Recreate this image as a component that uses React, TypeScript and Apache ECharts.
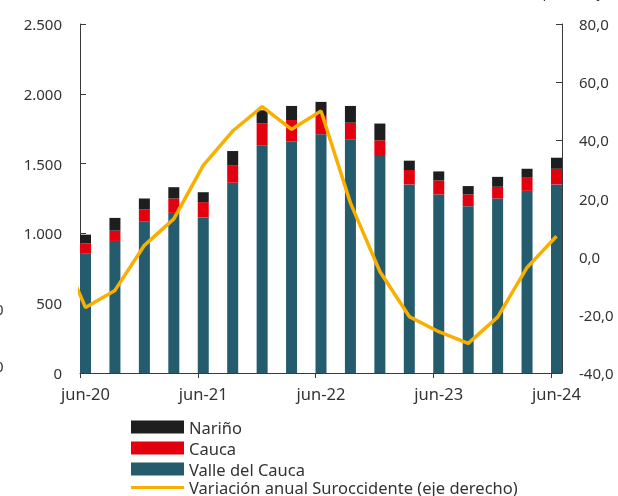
import React, { useEffect, useRef } from "react";
import * as echarts from "echarts";

const periods = [
  "jun-20", "sep-20", "dic-20", "mar-21", "jun-21", "sep-21", "dic-21", "mar-22",
  "jun-22", "sep-22", "dic-22", "mar-23", "jun-23", "sep-23", "dic-23", "mar-24", "jun-24",
];
const labelIndexes = [0, 4, 8, 12, 16];

const valle = [857, 946, 1087, 1147, 1114, 1363, 1631, 1657, 1710, 1674, 1554, 1351, 1279, 1195, 1250, 1305, 1351];
const cauca = [72, 74, 84, 103, 110, 126, 156, 155, 132, 119, 113, 103, 100, 84, 84, 94, 112];
const narino = [62, 91, 79, 81, 71, 101, 95, 101, 100, 120, 120, 67, 65, 60, 71, 64, 79];
// annual variation (%), right axis; first value = mar-20 (outside the plot, clipped)
const variacionPrev = 6.0;
const variacion = [-17.5, -11.6, 3.9, 13.0, 31.4, 43.2, 51.6, 43.8, 50.1, 18.5, -5.1, -20.6, -25.8, -29.8, -20.8, -3.7, 7.0];

const leftTicks = { min: 0, max: 2500, interval: 500 };
const rightTicks = { min: -40, max: 80, interval: 20 };

const LINE_NAME = "Variación anual Suroccidente (eje derecho)";
const FONT = "'Noto Sans', sans-serif";
const TXT = "#333333";
const AX = "#3a3a3a";

export default function App() {
  const ref = useRef<HTMLDivElement>(null);
  useEffect(() => {
    if (!ref.current) return;
    const chart = echarts.init(ref.current, undefined, { renderer: "svg" });
    const W = 618;
    const plotL = 80;
    const plotR = 562;
    const pad = 0.187;
    const tickOffset = 0.18;
    const n = periods.length;
    const step = (plotR - plotL) / (n - 1 + 2 * pad);
    const barGridL = plotL + pad * step - step / 2;
    const barGridR = plotR - pad * step + step / 2;
    const fmtThousands = (v: number) => String(v).replace(/\B(?=(\d{3})+(?!\d))/g, ".");
    const lineData = [[-1, variacionPrev], ...variacion.map((v, i) => [i, v])];
    chart.setOption({
      animation: false,
      textStyle: { fontFamily: FONT },
      grid: [
        { left: barGridL, right: W - barGridR, top: 24, bottom: 123, containLabel: false },
        { left: plotL, right: W - plotR, top: 24, bottom: 123, containLabel: false },
      ],
      legend: [
        {
          orient: "vertical",
          left: 131,
          top: 418.5,
          padding: 0,
          itemWidth: 53,
          itemHeight: 13,
          itemGap: 4,
          textStyle: { fontFamily: FONT, fontSize: 16.5, color: TXT },
          data: [
            { name: "Nariño", icon: "rect" },
            { name: "Cauca", icon: "rect" },
            { name: "Valle del Cauca", icon: "rect" },
          ],
        },
        {
          orient: "vertical",
          left: 131,
          top: 479,
          padding: 0,
          itemWidth: 53,
          itemHeight: 3,
          textStyle: { fontFamily: FONT, fontSize: 16.5, color: TXT },
          data: [{ name: LINE_NAME, icon: "rect" }],
        },
      ],
      xAxis: [
        {
          type: "category",
          gridIndex: 0,
          data: periods,
          show: false,
          boundaryGap: true,
        },
        {
          type: "value",
          gridIndex: 1,
          min: -pad,
          max: n - 1 + pad,
          splitLine: { show: false },
          axisLine: { show: true, onZero: false, lineStyle: { color: AX, width: 1 } },
          axisTick: {
            show: true,
            length: 5,
            lineStyle: { color: AX },
            customValues: labelIndexes.map((i) => i - tickOffset),
          },
          axisLabel: {
            customValues: labelIndexes,
            formatter: (v: number) => periods[Math.round(v)] ?? "",
            fontFamily: FONT,
            fontSize: 16.5,
            color: TXT,
            margin: 12,
          },
        },
      ],
      yAxis: [
        {
          type: "value",
          gridIndex: 1,
          ...leftTicks,
          position: "left",
          splitLine: { show: false },
          axisLine: { show: true, onZero: false, lineStyle: { color: AX } },
          axisTick: { show: true, inside: true, length: 6, lineStyle: { color: AX } },
          axisLabel: { formatter: fmtThousands, fontFamily: FONT, fontSize: 15, color: TXT, margin: 18 },
        },
        {
          type: "value",
          gridIndex: 1,
          ...rightTicks,
          position: "right",
          splitLine: { show: false },
          axisLine: { show: true, onZero: false, lineStyle: { color: AX } },
          axisTick: { show: true, inside: true, length: 6, lineStyle: { color: AX } },
          axisLabel: {
            formatter: (v: number) => v.toFixed(1).replace(".", ","),
            fontFamily: FONT,
            fontSize: 15,
            color: TXT,
            margin: 17,
          },
        },
        {
          type: "value",
          gridIndex: 0,
          ...leftTicks,
          show: false,
          splitLine: { show: false },
        },
      ],
      series: [
        {
          name: "Valle del Cauca",
          type: "bar",
          stack: "total",
          barWidth: 11,
          xAxisIndex: 0,
          yAxisIndex: 2,
          itemStyle: { color: "#245B6D" },
          data: valle,
        },
        {
          name: "Cauca",
          type: "bar",
          stack: "total",
          barWidth: 11,
          xAxisIndex: 0,
          yAxisIndex: 2,
          itemStyle: { color: "#E3000F" },
          data: cauca,
        },
        {
          name: "Nariño",
          type: "bar",
          stack: "total",
          barWidth: 11,
          xAxisIndex: 0,
          yAxisIndex: 2,
          itemStyle: { color: "#1E1E1E" },
          data: narino,
        },
        {
          name: LINE_NAME,
          type: "line",
          xAxisIndex: 1,
          yAxisIndex: 1,
          symbol: "none",
          showSymbol: false,
          clip: true,
          lineStyle: { color: "#F8AF00", width: 3.5 },
          itemStyle: { color: "#F8AF00" },
          data: lineData,
        },
      ],
      graphic: [
        { type: "text", left: -5, top: 301, style: { text: "0", font: `15px ${FONT}`, fill: TXT } },
        { type: "text", left: -5, top: 358, style: { text: "0", font: `15px ${FONT}`, fill: TXT } },
        { type: "text", right: 6, top: -14, style: { text: "(porcentaje)", font: `13px ${FONT}`, fill: TXT } },
      ],
    });
    return () => chart.dispose();
  }, []);
  return <div ref={ref} style={{ position: "fixed", left: 0, top: 0, width: 618, height: 496 }} />;
}
